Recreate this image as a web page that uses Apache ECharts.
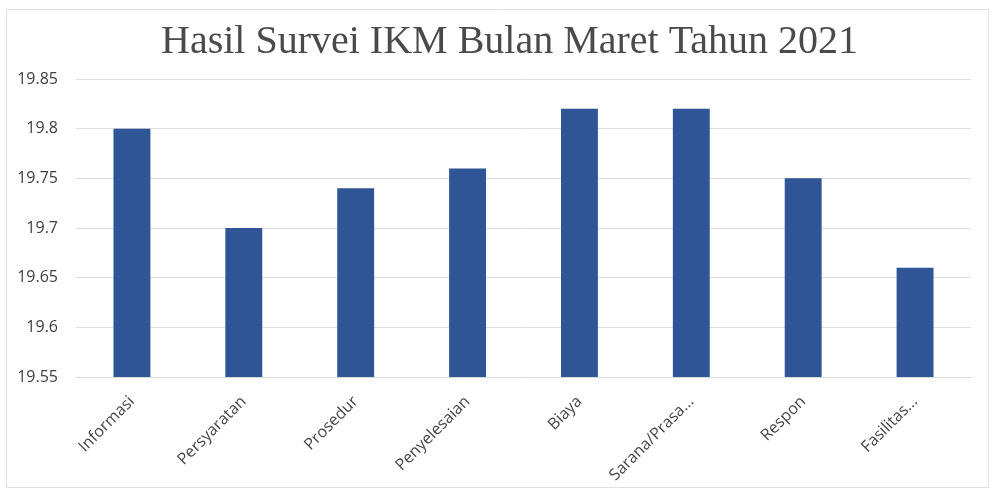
<!DOCTYPE html>
<html>
<head>
<meta charset="utf-8">
<script src="https://cdn.jsdelivr.net/npm/echarts@6/dist/echarts.min.js"></script>
<style>
html,body{margin:0;padding:0;background:#fff;}
#chart{width:994px;height:491px;}
</style>
</head>
<body>
<div id="chart"></div>
<script>
const titleText = "Hasil Survei IKM Bulan Maret Tahun 2021";
const categories = ["Informasi", "Persyaratan", "Prosedur", "Penyelesaian", "Biaya", "Sarana/Prasa...", "Respon", "Fasilitas..."];
const values = [19.80, 19.70, 19.74, 19.76, 19.82, 19.82, 19.75, 19.66];
const yMin = 19.55, yMax = 19.85, yStep = 0.05;

const chart = echarts.init(document.getElementById('chart'));
chart.setOption({
  backgroundColor: '#ffffff',
  animation: false,
  title: {
    text: titleText,
    left: 156,
    top: 17,
    textStyle: {
      fontFamily: 'Liberation Serif',
      fontWeight: 'normal',
      fontSize: 40,
      color: '#4a4a4a'
    }
  },
  grid: { left: 76, right: 23, top: 79, bottom: 114 },
  xAxis: {
    type: 'category',
    data: categories,
    axisLine: { show: true, lineStyle: { color: '#d9d9d9' } },
    axisTick: { show: false },
    axisLabel: {
      rotate: 45,
      margin: 22,
      fontFamily: 'Open Sans',
      fontSize: 16,
      color: '#454545',
      interval: 0
    }
  },
  yAxis: {
    type: 'value',
    min: yMin,
    max: yMax,
    interval: yStep,
    axisLine: { show: false },
    axisTick: { show: false },
    splitLine: { lineStyle: { color: '#dcdcdc', width: 1 } },
    axisLabel: {
      margin: 18,
      fontFamily: 'Open Sans',
      fontSize: 16,
      color: '#404040',
      formatter: v => String(+v.toFixed(2))
    }
  },
  series: [{
    type: 'bar',
    data: values,
    barWidth: '33%',
    itemStyle: { color: '#2f5597' }
  }],
  graphic: [{
    type: 'rect',
    shape: { x: 6.5, y: 9.5, width: 982, height: 478 },
    style: { fill: 'none', stroke: '#e0e0e0', lineWidth: 1 },
    silent: true
  }]
});
</script>
</body>
</html>
